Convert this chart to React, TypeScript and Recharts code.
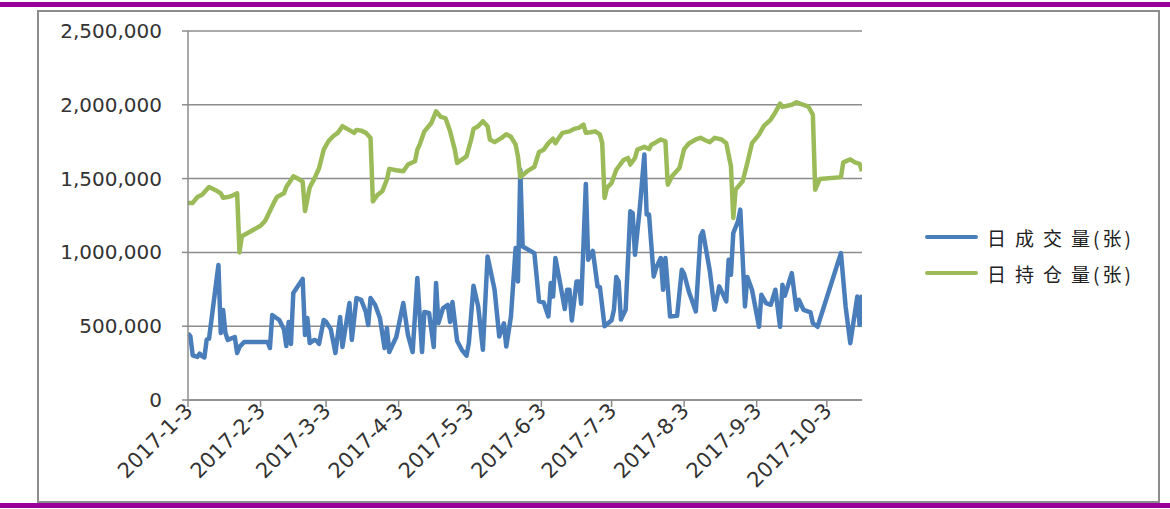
import { LineChart, Line, XAxis, YAxis, CartesianGrid } from "recharts";

// x values are days counted from 2017-1-3
const TICK_DAYS = [0, 31, 59, 90, 120, 151, 181, 212, 243, 273];
const TICK_LABELS = [
  "2017-1-3", "2017-2-3", "2017-3-3", "2017-4-3", "2017-5-3",
  "2017-6-3", "2017-7-3", "2017-8-3", "2017-9-3", "2017-10-3",
];
const Y_TICKS = [0, 500000, 1000000, 1500000, 2000000, 2500000];

// 日成交量(张)
const volumeDays = [
  0, 1, 2, 4, 5, 6, 7, 8, 9, 13, 14, 15, 16, 17, 20, 21, 22, 24, 34, 35,
  36, 39, 41, 42, 43, 44, 45, 49, 50, 51, 52, 54, 55, 56, 58, 59, 61, 63, 65, 66,
  68, 69, 70, 72, 74, 76, 77, 78, 80, 82, 84, 85, 86, 89, 92, 94, 96, 98, 100, 101,
  103, 105, 106, 107, 109, 111, 112, 113, 115, 117, 119, 120, 122, 124, 126, 128, 131, 133, 135, 136,
  138, 140, 141, 142, 143, 148, 150, 152, 154, 155, 156, 157, 159, 161, 162, 163, 164, 166, 167, 168,
  170, 171, 173, 175, 176, 178, 181, 182, 183, 184, 185, 187, 189, 190, 191, 193, 195, 196, 197, 199,
  200, 202, 203, 204, 206, 209, 211, 212, 214, 217, 219, 220, 223, 225, 227, 230, 231, 232, 233, 235,
  236, 238, 239, 241, 244, 245, 247, 249, 251, 253, 254, 255, 258, 260, 261, 263, 266, 267, 269, 279,
  281, 283, 286, 287, 288,
];
const volumeValues = [
  450000, 432000, 303000, 292000, 315000, 297000, 288000, 410000, 416000, 915000,
  454000, 610000, 454000, 407000, 427000, 318000, 360000, 393000, 393000, 352000,
  576000, 542000, 480000, 366000, 528000, 380000, 725000, 820000, 440000, 555000,
  386000, 407000, 400000, 380000, 542000, 530000, 480000, 318000, 562000, 359000,
  560000, 657000, 407000, 691000, 678000, 596000, 508000, 691000, 644000, 556000,
  352000, 488000, 325000, 427000, 657000, 440000, 325000, 827000, 325000, 596000,
  590000, 359000, 793000, 522000, 623000, 644000, 528000, 664000, 400000, 340000,
  300000, 385000, 774000, 634000, 340000, 973000, 747000, 430000, 520000, 362000,
  566000, 1030000, 803000, 1560000, 1040000, 995000, 668000, 661000, 566000, 792000,
  701000, 962000, 792000, 616000, 747000, 747000, 539000, 803000, 803000, 652000,
  1464000, 950000, 1010000, 770000, 765000, 500000, 540000, 611000, 833000, 803000,
  545000, 611000, 1278000, 1267000, 984000, 1290000, 1663000, 1256000, 1256000, 837000,
  894000, 962000, 747000, 962000, 566000, 570000, 882000, 855000, 735000, 600000,
  1109000, 1143000, 871000, 611000, 770000, 668000, 950000, 848000, 1131000, 1210000,
  1290000, 634000, 833000, 747000, 496000, 713000, 656000, 645000, 747000, 496000,
  781000, 706000, 860000, 611000, 679000, 611000, 593000, 520000, 496000, 995000,
  634000, 385000, 701000, 508000, 713000,
];

// 日持仓量(张)
const holdDays = [
  0, 2, 4, 6, 9, 12, 14, 15, 17, 19, 21, 22, 23, 31, 33, 35, 37, 38, 41, 42,
  45, 47, 49, 50, 52, 54, 56, 58, 60, 62, 64, 66, 68, 70, 71, 72, 74, 76, 78, 79,
  81, 83, 85, 86, 89, 92, 94, 97, 98, 99, 101, 104, 106, 108, 110, 112, 114, 115, 119, 121,
  122, 124, 126, 128, 129, 131, 134, 136, 138, 140, 141, 142, 145, 148, 150, 152, 154, 156, 157, 158,
  160, 163, 165, 167, 169, 170, 172, 174, 176, 177, 178, 179, 181, 183, 186, 188, 189, 191, 192, 195,
  197, 198, 200, 202, 204, 205, 207, 210, 212, 214, 217, 219, 221, 223, 225, 228, 230, 232, 233, 234,
  237, 239, 241, 244, 246, 249, 251, 253, 254, 258, 260, 263, 265, 267, 268, 270, 279, 280, 283, 285,
  287, 288,
];
const holdValues = [
  1335000, 1335000, 1375000, 1390000, 1443000, 1420000, 1400000, 1370000, 1375000, 1385000,
  1400000, 1000000, 1110000, 1180000, 1215000, 1280000, 1346000, 1375000, 1400000, 1443000,
  1515000, 1500000, 1480000, 1280000, 1440000, 1500000, 1570000, 1696000, 1753000, 1787000,
  1810000, 1855000, 1837000, 1820000, 1810000, 1830000, 1825000, 1810000, 1775000, 1346000,
  1390000, 1414000, 1493000, 1566000, 1557000, 1550000, 1595000, 1617000, 1696000, 1730000,
  1820000, 1877000, 1956000, 1918000, 1910000, 1820000, 1696000, 1606000, 1650000, 1765000,
  1837000, 1855000, 1889000, 1855000, 1765000, 1747000, 1776000, 1800000, 1783000, 1730000,
  1650000, 1510000, 1550000, 1580000, 1680000, 1696000, 1740000, 1770000, 1740000, 1765000,
  1810000, 1820000, 1837000, 1844000, 1866000, 1810000, 1814000, 1820000, 1800000, 1740000,
  1369000, 1437000, 1470000, 1560000, 1624000, 1640000, 1595000, 1640000, 1697000, 1715000,
  1700000, 1730000, 1747000, 1765000, 1753000, 1459000, 1520000, 1572000, 1700000, 1738000,
  1765000, 1776000, 1760000, 1747000, 1776000, 1765000, 1740000, 1584000, 1233000, 1425000,
  1482000, 1606000, 1740000, 1798000, 1855000, 1900000, 1950000, 2008000, 1986000, 2000000,
  2017000, 2000000, 1990000, 1933000, 1425000, 1498000, 1510000, 1610000, 1630000, 1610000,
  1600000, 1550000,
];

const volumeData = volumeDays.map((d, i) => ({ day: d, value: volumeValues[i] }));
const holdData = holdDays.map((d, i) => ({ day: d, value: holdValues[i] }));

const BLUE = "#4a7ebb";
const GREEN = "#9bbb59";
const AXIS = "#8c8c8c";

const YTick = ({ x, y, payload }: any) => (
  <text
    x={x}
    y={y}
    dy={7}
    textAnchor="end"
    fontSize={20}
    fontFamily="DejaVu Sans"
    fill="#333"
  >
    {Number(payload.value).toLocaleString("en-US")}
  </text>
);

const XTick = ({ x, y, index }: any) => (
  <text
    transform={`translate(${x + 6},${y + 3}) rotate(-45)`}
    textAnchor="end"
    fontSize={21}
    fontFamily="DejaVu Sans"
    fill="#333"
  >
    {TICK_LABELS[index]}
  </text>
);

const legendItems = [
  { head: "日成交", tail: "量(张)", color: BLUE },
  { head: "日持仓", tail: "量(张)", color: GREEN },
];

export default function App() {
  return (
    <div style={{ position: "absolute", left: 0, top: 0, width: 1170, height: 509, background: "#fff" }}>
      {/* purple rules */}
      <div style={{ position: "absolute", left: 0, top: 2, width: 1170, height: 5, background: "#990099" }} />
      <div style={{ position: "absolute", left: 0, top: 503, width: 1170, height: 5, background: "#990099" }} />
      {/* chart frame */}
      <div
        style={{
          position: "absolute",
          left: 37,
          top: 10,
          width: 1119,
          height: 489,
          border: "2px solid #8c8c8c",
        }}
      />
      <div style={{ position: "absolute", left: 0, top: 0 }}>
        <LineChart
          width={1170}
          height={509}
          margin={{ top: 31, right: 308, bottom: 79, left: 38 }}
        >
          <CartesianGrid vertical={false} stroke={AXIS} strokeWidth={1.5} />
          <XAxis
            type="number"
            dataKey="day"
            height={30}
            domain={[0, 288]}
            ticks={TICK_DAYS}
            tick={<XTick />}
            tickSize={7}
            tickMargin={2}
            interval={0}
            axisLine={{ stroke: AXIS, strokeWidth: 1.5 }}
            tickLine={{ stroke: AXIS, strokeWidth: 1.5 }}
            allowDataOverflow
          />
          <YAxis
            width={150}
            domain={[0, 2500000]}
            ticks={Y_TICKS}
            tick={<YTick />}
            tickSize={6}
            tickMargin={20}
            interval={0}
            axisLine={{ stroke: AXIS, strokeWidth: 1.5 }}
            tickLine={{ stroke: AXIS, strokeWidth: 1.5 }}
          />
          <Line
            data={volumeData}
            dataKey="value"
            stroke={BLUE}
            strokeWidth={4.5}
            dot={false}
            strokeLinejoin="round"
            isAnimationActive={false}
          />
          <Line
            data={holdData}
            dataKey="value"
            stroke={GREEN}
            strokeWidth={4.5}
            dot={false}
            strokeLinejoin="round"
            isAnimationActive={false}
          />
        </LineChart>
      </div>
      {/* legend */}
      <div style={{ position: "absolute", left: 925, top: 219, fontFamily: "'Noto Sans CJK SC'", fontSize: 19, color: "#222" }}>
        {legendItems.map((s) => (
          <div key={s.head} style={{ display: "flex", alignItems: "center", height: 36, whiteSpace: "nowrap" }}>
            <div style={{ width: 53, height: 4, background: s.color, borderRadius: 2, marginRight: 9 }} />
            <span>
              <span style={{ letterSpacing: 9 }}>{s.head}</span>
              <span style={{ letterSpacing: 3 }}>{s.tail}</span>
            </span>
          </div>
        ))}
      </div>
    </div>
  );
}
